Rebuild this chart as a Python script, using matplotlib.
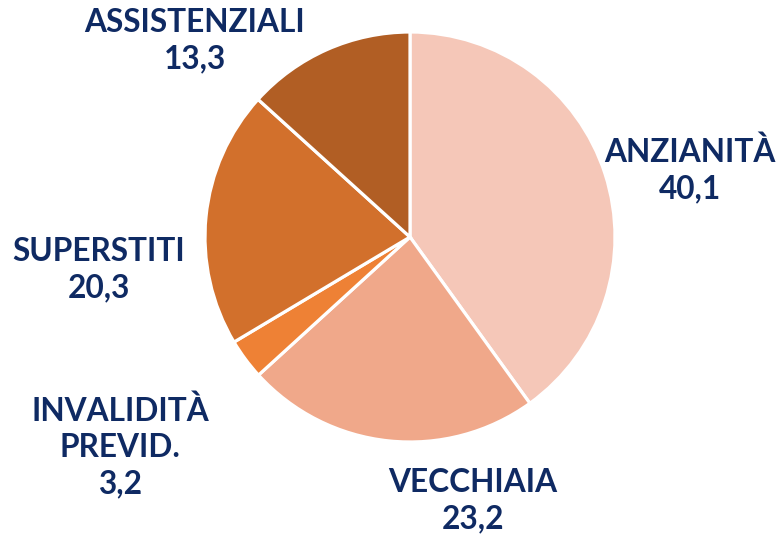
import matplotlib.pyplot as plt

# === Data ===
labels = ["ANZIANITÀ", "VECCHIAIA", "INVALIDITÀ\nPREVID.", "SUPERSTITI", "ASSISTENZIALI"]
values = [40.1, 23.2, 3.2, 20.3, 13.3]
value_labels = ["40,1", "23,2", "3,2", "20,3", "13,3"]
colors = ["#F5C7B8", "#F0A88A", "#EE8135", "#D2702C", "#B15E24"]

# label centres in pixels (x, y from top)
label_pos = [(690, 170), (473, 501), (120, 447), (99, 270), (195, 41)]

W, H = 782, 538
fig = plt.figure(figsize=(W / 100, H / 100), dpi=100)
ax = fig.add_axes([0, 0, 1, 1])
ax.set_xlim(0, W)
ax.set_ylim(0, H)
ax.set_aspect("equal")
ax.axis("off")

ax.pie(values, colors=colors, startangle=90, counterclock=False,
       center=(410, H - 237), radius=205,
       wedgeprops=dict(edgecolor="white", linewidth=2.3))
ax.set_xlim(0, W)
ax.set_ylim(0, H)

for lab, val, (px, py) in zip(labels, value_labels, label_pos):
    ax.text(px, H - py, f"{lab}\n{val}", ha="center", va="center",
            fontsize=22.8, fontweight="bold", family="Lato",
            color="#0F2A63", linespacing=1.3)

fig.savefig("out.png", dpi=100)
